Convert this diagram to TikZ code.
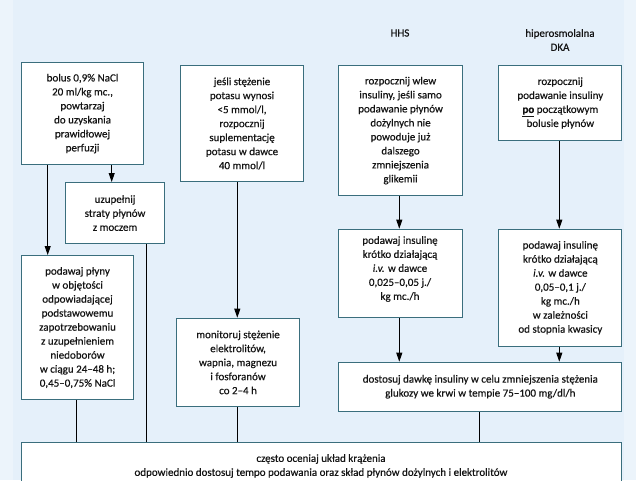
\documentclass[tikz,border=0pt]{standalone}
\usepackage{fontspec}
\setmainfont{Carlito}[UprightFeatures={FakeBold=0.4},ItalicFeatures={FakeBold=0.4}]
\newfontfamily\heavyfont{Carlito}[UprightFont=*-Bold,UprightFeatures={FakeBold=0.6}]
\usetikzlibrary{arrows.meta}
\definecolor{bgc}{RGB}{229,240,250}
\definecolor{bgl}{RGB}{236,244,251}
\definecolor{bordc}{RGB}{58,110,125}
\definecolor{txtc}{RGB}{20,20,20}
\tikzset{
  box/.style={draw=bordc, fill=white, line width=1.1pt, align=center, inner sep=0pt,
    anchor=north west, text=txtc, font=\fontsize{11}{14}\selectfont},
  lbl/.style={align=center, inner sep=0pt, text=txtc, font=\fontsize{11}{14}\selectfont},
  conn/.style={draw=black, line width=0.9pt},
  arr/.style={conn, -{Triangle[length=9pt,width=6pt]}}
}
\begin{document}
\begin{tikzpicture}[x=1pt,y=-1pt]
\useasboundingbox (0,0) rectangle (636,480);
\fill[bgc] (0,0) rectangle (636,480);
\fill[bgl] (0,0) rectangle (13,480);
\fill[bgl] (624,0) rectangle (636,480);

% labels
\node[lbl] (hhs) at (400,33) {HHS};
\node[lbl] (dka) at (560,40) {hiperosmolalna\\DKA};

% left column
\node[box, minimum width=122.6pt, minimum height=102pt] (a) at (20.7,62)
  {bolus 0,9\% NaCl\\20 ml/kg mc.,\\powtarzaj\\do uzyskania\\prawidłowej\\perfuzji};
\node[box, minimum width=99pt, minimum height=61pt] (b) at (65,182)
  {uzupełnij\\straty płynów\\z moczem};
\node[box, minimum width=112.6pt, minimum height=144pt] (c) at (20.7,255)
  {podawaj płyny\\w objętości\\odpowiadającej\\podstawowemu\\zapotrzebowaniu\\z uzupełnieniem\\niedoborów\\w ciągu 24–48 h;\\0,45–0,75\% NaCl};

% potassium column
\node[box, minimum width=123.6pt, minimum height=116pt] (k) at (179.7,65)
  {jeśli stężenie\\potasu wynosi\\<5 mmol/l,\\rozpocznij\\suplementację\\potasu w dawce\\40 mmol/l};
\node[box, minimum width=123.6pt, minimum height=88.3pt] (m) at (175.7,317.7)
  {monitoruj stężenie\\elektrolitów,\\wapnia, magnezu\\i fosforanów\\co 2–4 h};

% HHS column
\node[box, minimum width=123.4pt, minimum height=130pt] (h1) at (338.3,65)
  {rozpocznij wlew\\insuliny, jeśli samo\\podawanie płynów\\dożylnych nie\\powoduje już\\dalszego\\zmniejszenia\\glikemii};
\node[box, minimum width=123.4pt, minimum height=88.6pt] (h2) at (338.3,228.7) {};
\node[lbl] (h2t) at (400,269)
  {podawaj insulinę\\krótko działającą\\\textit{i.v.} w dawce\\0,025–0,05 j./\\kg mc./h};

% DKA column
\node[box, minimum width=123pt, minimum height=75pt] (d1) at (498.3,65)
  {rozpocznij\\podawanie insuliny\\\underline{{\heavyfont po}} początkowym\\bolusie płynów};
\node[box, minimum width=123pt, minimum height=117pt] (d2) at (498.3,228.7)
  {podawaj insulinę\\krótko działającą\\\textit{i.v.} w dawce\\0,05–0,1 j./\\kg mc./h\\w zależności\\od stopnia kwasicy};

\node[box, minimum width=283pt, minimum height=49pt] (g) at (338.3,361.7)
  {dostosuj dawkę insuliny w celu zmniejszenia stężenia\\glukozy we krwi w tempie 75–100 mg/dl/h};

% bottom
\node[box, minimum width=600.6pt, minimum height=60pt] (z) at (20.7,441.7) {};
\node[lbl] (zt) at (321,466)
  {często oceniaj układ krążenia\\odpowiednio dostosuj tempo podawania oraz skład płynów dożylnych i elektrolitów};

% x positions of connectors
\coordinate (xa) at (47.7,0);
\coordinate (xb) at (111.7,0);
\coordinate (xc) at (76.7,0);
\coordinate (xd) at (146.7,0);
\coordinate (xk) at (237.3,0);
\coordinate (xh) at (399.3,0);
\coordinate (xe) at (559.3,0);
\coordinate (xg) at (479.3,0);

\draw[arr] (xa |- a.south) -- (xa |- c.north);
\draw[arr] (xb |- a.south) -- (xb |- b.north);
\draw[conn] (xd |- b.south) -- (xd |- z.north);
\draw[conn] (xc |- c.south) -- (xc |- z.north);
\draw[arr] (xk |- k.south) -- (xk |- m.north);
\draw[conn] (xk |- m.south) -- (xk |- z.north);
\draw[arr] (xh |- h1.south) -- (xh |- h2.north);
\draw[arr] (xe |- d1.south) -- (xe |- d2.north);
\draw[arr] (xh |- h2.south) -- (xh |- g.north);
\draw[arr] (xe |- d2.south) -- (xe |- g.north);
\draw[conn] (xg |- g.south) -- (xg |- z.north);
\end{tikzpicture}
\end{document}
